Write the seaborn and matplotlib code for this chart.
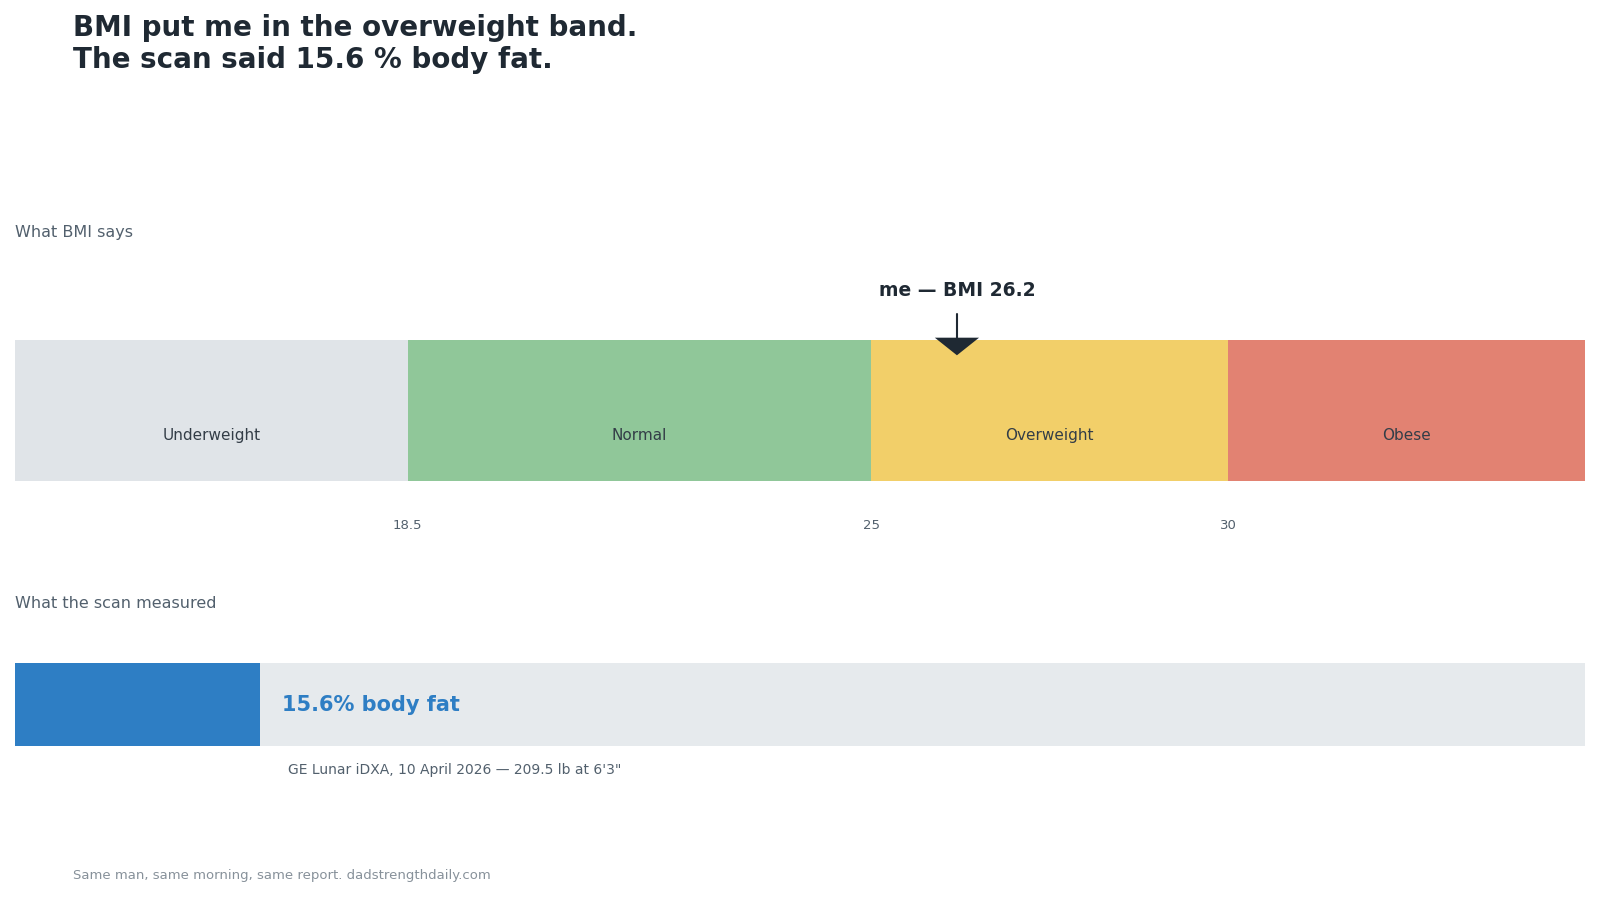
import matplotlib
matplotlib.use("Agg")
import matplotlib.pyplot as plt
import seaborn as sns
import pandas as pd

sns.set_theme(style="white")
plt.rcParams['font.family'] = ['DejaVu Sans']

band_names = ["Underweight", "Normal", "Overweight", "Obese"]
band_starts = [13.0, 18.5, 25.0, 30.0]
band_ends = [18.5, 25.0, 30.0, 35.0]
band_colors = ["#e0e4e8", "#90c799", "#f2cf69", "#e28272"]
tick_values = [18.5, 25, 30]
tick_labels = ["18.5", "25", "30"]
my_bmi = 26.2
body_fat = 15.6

fig = plt.figure(figsize=(16, 9), dpi=100)
W, H = 1568, 882
def fx(px): return px / W
def fy(py): return 1 - py / H

fig.text(fx(72), fy(43), "BMI put me in the overweight band.\nThe scan said 15.6 % body fat.",
         fontsize=20, fontweight="bold", color="#1f2933", va="center", linespacing=1.15)

ax = fig.add_axes([fx(15), fy(471), fx(1553) - fx(15), fy(333) - fy(471)])
df = pd.DataFrame({"band": band_names, "start": band_starts, "end": band_ends})
for i, r in df.iterrows():
    ax.barh(0, r["end"] - r["start"], left=r["start"], height=1, color=band_colors[i], linewidth=0)
    ax.text((r["start"] + r["end"]) / 2, -0.18, r["band"], ha="center", va="center",
            fontsize=11, color="#333d47")
ax.set_xlim(13, 35)
ax.set_ylim(-0.5, 0.5)
ax.axis("off")
for v, l in zip(tick_values, tick_labels):
    ax.text(v, -0.82, l, ha="center", va="center", fontsize=9.5, color="#52606d")
ax.plot([my_bmi, my_bmi], [0.51, 0.68], color="#1f2933", lw=1.5, clip_on=False)
ax.fill([my_bmi - 0.31, my_bmi + 0.31, my_bmi], [0.515, 0.515, 0.39], color="#1f2933",
        clip_on=False, zorder=5, linewidth=0)
ax.text(my_bmi, 0.85, f"me — BMI {my_bmi}", ha="center", va="center", fontsize=13.5,
        fontweight="bold", color="#1f2933")

fig.text(fx(15), fy(228), "What BMI says", fontsize=11.5, color="#52606d", va="center")
fig.text(fx(15), fy(591), "What the scan measured", fontsize=11.5, color="#52606d", va="center")

ax2 = fig.add_axes([fx(15), fy(731), fx(1553) - fx(15), fy(650) - fy(731)])
ax2.barh(0, 100, height=1, color="#e6eaed", linewidth=0)
sdf = pd.DataFrame({"metric": ["body fat"], "value": [body_fat]})
sns.barplot(data=sdf, x="value", y="metric", orient="h", color="#2e7ec4", width=1,
            saturation=1, ax=ax2, linewidth=0)
ax2.set_xlim(0, 100)
ax2.set_ylim(0.5, -0.5)
ax2.axis("off")
ax2.text(body_fat + 1.4, 0, f"{body_fat}% body fat", va="center", ha="left", fontsize=15,
         fontweight="bold", color="#2e7ec4")
fig.text(fx(282), fy(755), "GE Lunar iDXA, 10 April 2026 — 209.5 lb at 6'3\"", fontsize=10,
         color="#52606d", va="center")

fig.text(fx(72), fy(858), "Same man, same morning, same report. dadstrengthdaily.com", fontsize=9.5,
         color="#87919a", va="center")

fig.savefig("out.png", dpi=100)
